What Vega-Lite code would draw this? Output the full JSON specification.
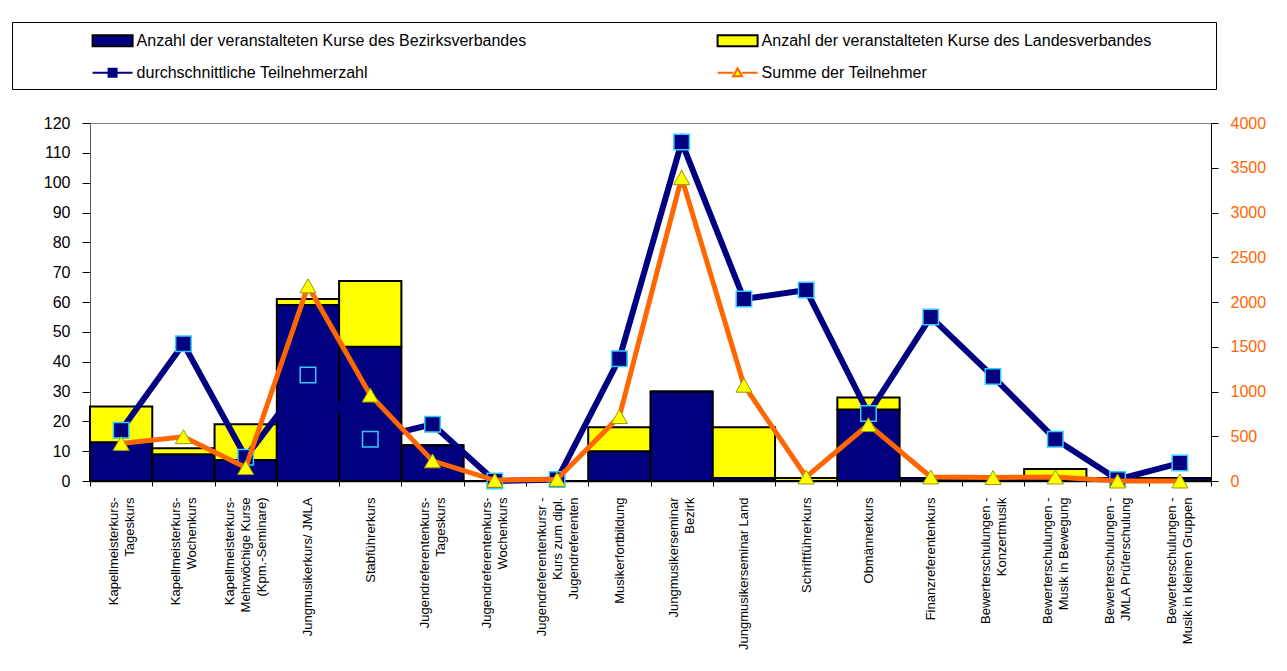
{
  "$schema": "https://vega.github.io/schema/vega-lite/v6.json",
  "width": 1121,
  "height": 358,
  "autosize": {"type": "none"},
  "padding": {"left": 90, "top": 123, "right": 76, "bottom": 190},
  "background": "#FFFFFF",
  "config": {
    "font": "Liberation Sans",
    "view": {"fill": "#C0C0C0", "stroke": "#808080", "strokeWidth": 1},
    "axis": {"grid": false, "labelFont": "Liberation Sans", "labelColor": "#000000", "tickColor": "#000000", "title": null},
    "legend": {
      "orient": "none", "legendX": -78, "legendY": -101, "direction": "horizontal",
      "columns": 2, "columnPadding": 187, "rowPadding": 11.2, "padding": 7.6,
      "strokeColor": "#000000", "fillColor": "#FFFFFF",
      "titleOrient": "left", "titleFontSize": 10, "titlePadding": 82,
      "symbolSize": 400, "symbolStrokeWidth": 2, "symbolOpacity": 1, "labelOffset": 13,
      "labelFontSize": 16, "labelFont": "Liberation Sans", "labelColor": "#000000", "labelLimit": 700
    }
  },
  "data": {
    "values": [
      {"kurs": "Kapellmeisterkurs-|Tageskurs", "bezirk": 13, "landes": 12, "avg": 17, "sum": 420},
      {"kurs": "Kapellmeisterkurs-|Wochenkurs", "bezirk": 9, "landes": 2, "avg": 46, "sum": 495},
      {"kurs": "Kapellmeisterkurs-|Mehrwöchige Kurse|(Kpm.-Seminare)", "bezirk": 7, "landes": 12, "avg": 8, "sum": 150},
      {"kurs": "Jungmusikerkurs/ JMLA", "bezirk": 59, "landes": 2, "avg": 35.5, "sum": 2180},
      {"kurs": "Stabführerkurs", "bezirk": 45, "landes": 22, "avg": 14, "sum": 960},
      {"kurs": "Jugendreferentenkurs-|Tageskurs", "bezirk": 12, "landes": 0, "avg": 19, "sum": 225},
      {"kurs": "Jugendreferentenkurs-|Wochenkurs", "bezirk": 0, "landes": 0, "avg": 0, "sum": 8},
      {"kurs": "Jugendreferentenkursr -|Kurs zum dipl.|Jugendreferenten", "bezirk": 0, "landes": 0, "avg": 0.5, "sum": 19},
      {"kurs": "Musikerfortbildung", "bezirk": 10, "landes": 8, "avg": 41, "sum": 720},
      {"kurs": "Jungmusikerseminar|Bezirk", "bezirk": 30, "landes": 0, "avg": 113.6, "sum": 3390},
      {"kurs": "Jungmusikerseminar Land", "bezirk": 1, "landes": 17, "avg": 61, "sum": 1070},
      {"kurs": "Schriftführerkurs", "bezirk": 0, "landes": 1, "avg": 64, "sum": 45},
      {"kurs": "Obmännerkurs", "bezirk": 24, "landes": 4, "avg": 22.6, "sum": 630},
      {"kurs": "Finanzreferentenkurs", "bezirk": 1, "landes": 0, "avg": 55, "sum": 45},
      {"kurs": "Bewerterschulungen -|Konzertmusik", "bezirk": 1, "landes": 0, "avg": 35, "sum": 38},
      {"kurs": "Bewerterschulungen -|Musik in Bewegung", "bezirk": 1, "landes": 3, "avg": 14, "sum": 45},
      {"kurs": "Bewerterschulungen -|JMLA Prüferschulung", "bezirk": 1, "landes": 0, "avg": 0.5, "sum": 0},
      {"kurs": "Bewerterschulungen -|Musik in kleinen Gruppen", "bezirk": 1, "landes": 0, "avg": 6, "sum": 0}
    ]
  },
  "resolve": {"scale": {"y": "independent"}},
  "layer": [
    {
      "layer": [
        {
          "transform": [{"fold": ["bezirk", "landes"], "as": ["serie", "anzahl"]}],
          "mark": {"type": "bar", "strokeWidth": 2},
          "encoding": {
            "x": {
              "field": "kurs", "type": "nominal", "sort": null,
              "scale": {"paddingInner": 0, "paddingOuter": 0},
              "axis": {
                "labelAngle": -90, "labelExpr": "split(datum.label, '|')",
                "labelFontSize": 13, "labelLineHeight": 16, "labelLimit": 250,
                "tickBand": "extent", "tickSize": 5, "labelPadding": 11,
                "labelOffset": {"expr": "-(length(split(datum.value, '|')) - 1) * 8"},
                "domainColor": "#000000", "domainWidth": 1.5, "tickColor": "#000000"
              }
            },
            "y": {
              "field": "anzahl", "type": "quantitative", "stack": "zero",
              "scale": {"domain": [0, 120], "nice": false},
              "axis": {
                "tickCount": 12, "labelOverlap": false, "format": "d",
                "labelFontSize": 16, "tickSize": 8, "labelPadding": 12,
                "domainColor": "#555555", "orient": "left"
              }
            },
            "order": {"field": "serie", "sort": "ascending"},
            "fill": {
              "field": "serie", "type": "nominal",
              "scale": {"domain": ["bezirk", "landes", "avg", "sum"], "range": ["#000080", "#FFFF00", "#000080", "#FFFF00"]},
              "legend": {
                "title": "\u00a0",
                "labelExpr": "datum.value === 'bezirk' ? 'Anzahl der veranstalteten Kurse des Bezirksverbandes' : datum.value === 'landes' ? 'Anzahl der veranstalteten Kurse des Landesverbandes\u2003\u2003\u2003\u00a0\u00a0\u200b' : datum.value === 'avg' ? 'durchschnittliche Teilnehmerzahl' : 'Summe der Teilnehmer'"
              }
            },
            "stroke": {
              "field": "serie", "type": "nominal",
              "scale": {"domain": ["bezirk", "landes", "avg", "sum"], "range": ["#000000", "#000000", "#000080", "#FF6600"]},
              "legend": {
                "title": "\u00a0",
                "labelExpr": "datum.value === 'bezirk' ? 'Anzahl der veranstalteten Kurse des Bezirksverbandes' : datum.value === 'landes' ? 'Anzahl der veranstalteten Kurse des Landesverbandes\u2003\u2003\u2003\u00a0\u00a0\u200b' : datum.value === 'avg' ? 'durchschnittliche Teilnehmerzahl' : 'Summe der Teilnehmer'"
              }
            }
          }
        },
        {
          "mark": {"type": "line", "color": "#000080", "strokeWidth": 6},
          "encoding": {
            "x": {"field": "kurs", "type": "nominal", "sort": null},
            "y": {"field": "avg", "type": "quantitative"}
          }
        },
        {
          "mark": {"type": "point", "shape": "square", "size": 240, "filled": true, "fill": "#000080", "stroke": "#33CCFF", "strokeWidth": 1.5, "opacity": 1},
          "encoding": {
            "x": {"field": "kurs", "type": "nominal", "sort": null},
            "y": {"field": "avg", "type": "quantitative"}
          }
        },
        {
          "data": {"values": []},
          "mark": {"type": "point", "filled": true},
          "encoding": {
            "shape": {
              "field": "serie", "type": "nominal",
              "scale": {"domain": ["bezirk", "landes", "avg", "sum"], "range": ["M-2,-0.55H2V0.55H-2Z", "M-2,-0.55H2V0.55H-2Z", "M-2,0H2M-0.4,-0.4H0.4V0.4H-0.4Z", "M-2,0H-0.45M0.45,0H2M0,-0.45L0.45,0.35H-0.45Z"]},
              "legend": {
                "title": "\u00a0",
                "labelExpr": "datum.value === 'bezirk' ? 'Anzahl der veranstalteten Kurse des Bezirksverbandes' : datum.value === 'landes' ? 'Anzahl der veranstalteten Kurse des Landesverbandes\u2003\u2003\u2003\u00a0\u00a0\u200b' : datum.value === 'avg' ? 'durchschnittliche Teilnehmerzahl' : 'Summe der Teilnehmer'"
              }
            },
            "fill": {"field": "serie", "type": "nominal"},
            "stroke": {"field": "serie", "type": "nominal"}
          }
        }
      ]
    },
    {
      "layer": [
        {
          "mark": {"type": "line", "color": "#FF6600", "strokeWidth": 5},
          "encoding": {
            "x": {"field": "kurs", "type": "nominal", "sort": null},
            "y": {
              "field": "sum", "type": "quantitative",
              "scale": {"domain": [0, 4000], "nice": false},
              "axis": {
                "orient": "right", "tickCount": 8,
                "labelOverlap": false, "format": "d",
                "labelFontSize": 16, "labelColor": "#FF6600", "tickSize": 7, "labelPadding": 12,
                "domainColor": "#000000", "tickColor": "#000000"
              }
            }
          }
        },
        {
          "mark": {"type": "point", "shape": "triangle-up", "size": 260, "filled": true, "fill": "#FFFF00", "stroke": "#9A9A00", "strokeWidth": 1, "opacity": 1},
          "encoding": {
            "x": {"field": "kurs", "type": "nominal", "sort": null},
            "y": {"field": "sum", "type": "quantitative"}
          }
        }
      ]
    }
  ]
}
